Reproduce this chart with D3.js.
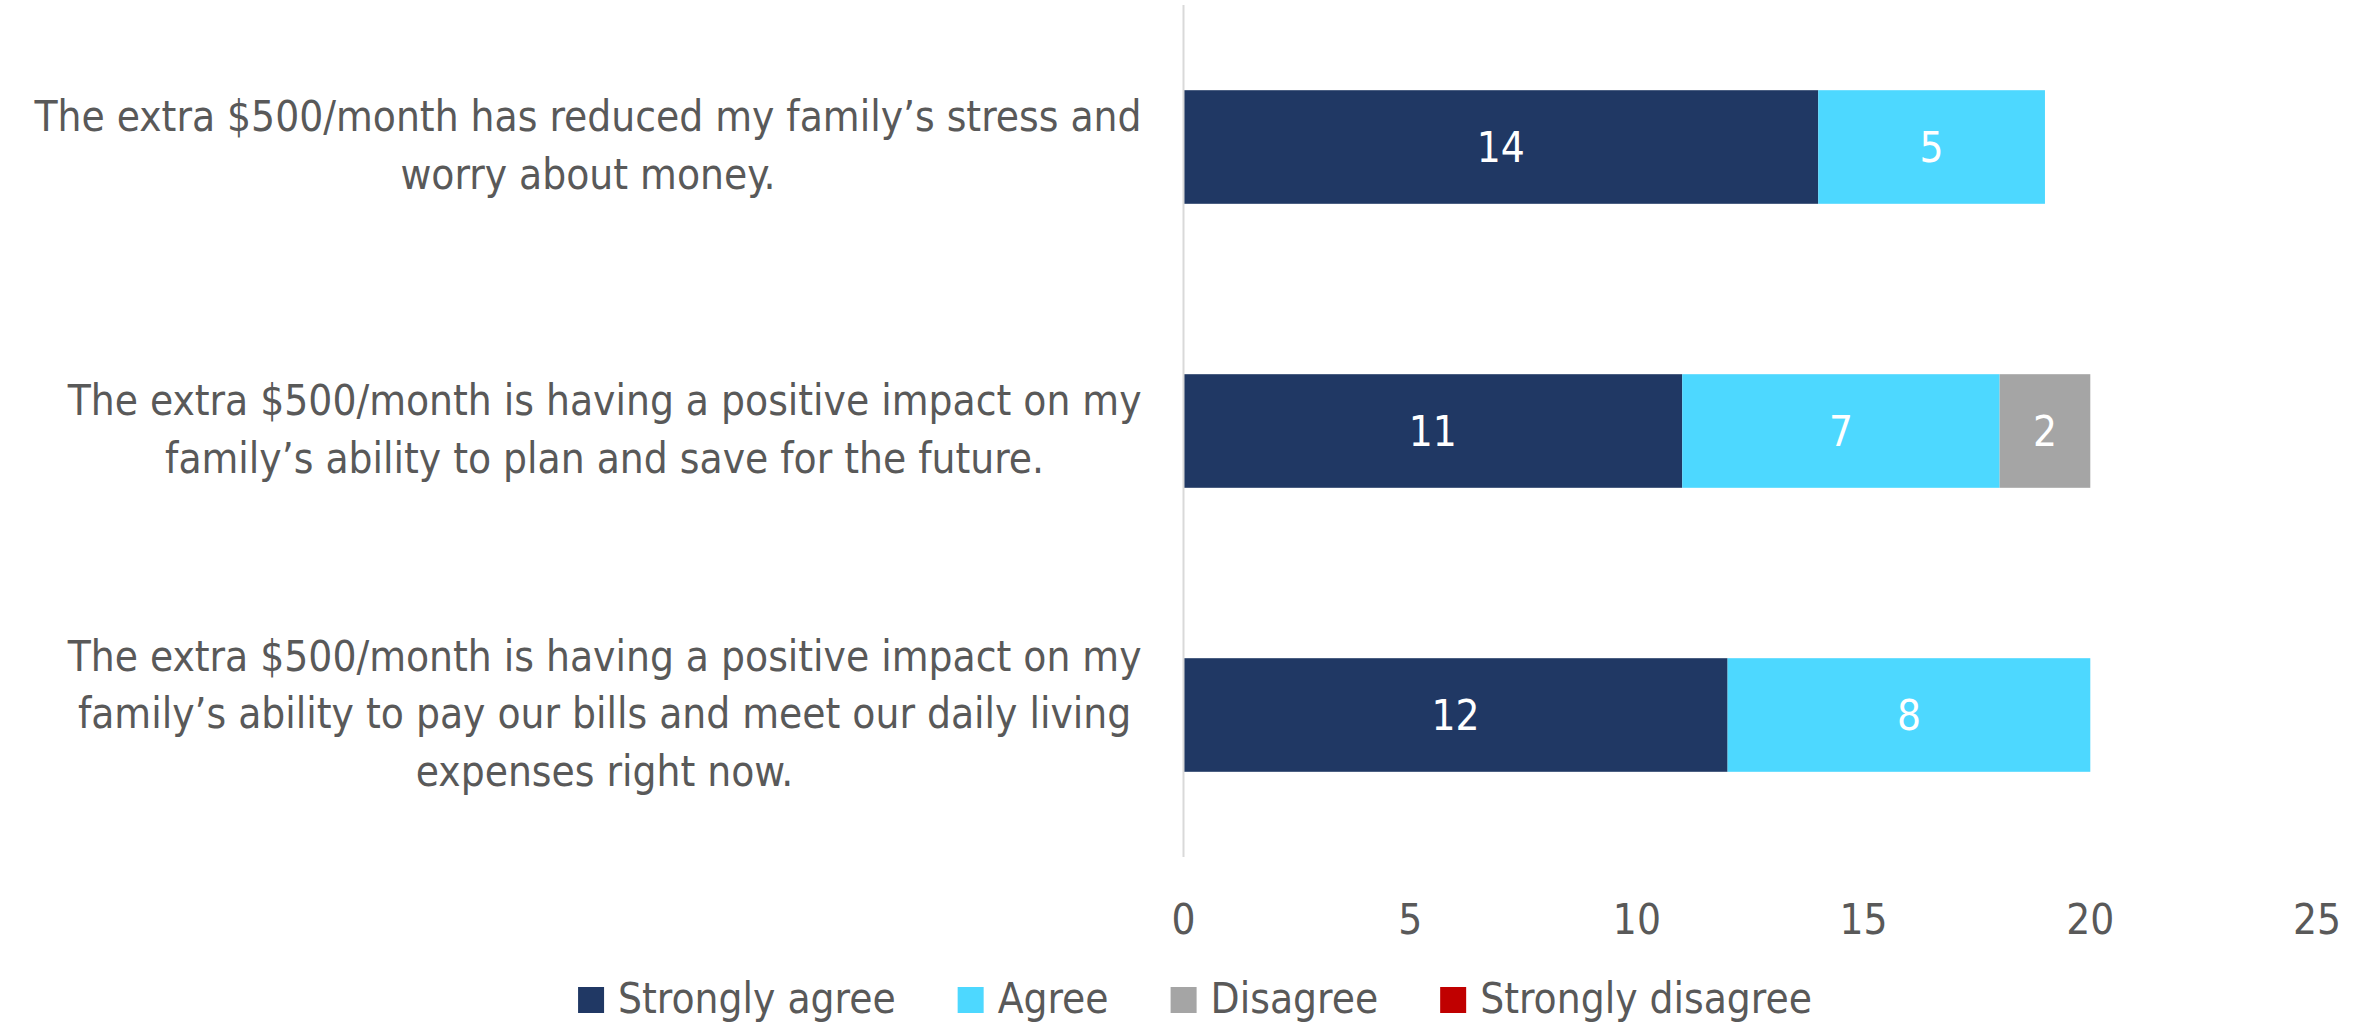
<!DOCTYPE html>
<html>
<head>
<meta charset="utf-8">
<script src="https://cdn.jsdelivr.net/npm/d3@7"></script>
<style>
  body { margin: 0; background: #fff; }
  svg text { font-family: 'DejaVu Sans Condensed', 'DejaVu Sans', sans-serif; font-stretch: condensed; }
</style>
</head>
<body>
<svg id="chart" width="2369" height="1024"></svg>
<script>
const width = 2369, height = 1024;
const svg = d3.select("#chart");

// data
const categories = [
    "The extra $500/month has reduced my family’s stress and worry about money.",
    "The extra $500/month is having a positive impact on my family’s ability to plan and save for the future.",
    "The extra $500/month is having a positive impact on my family’s ability to pay our bills and meet our daily living expenses right now."
];
const categoryLines = [
    ["The extra $500/month has reduced my family’s stress and", "worry about money."],
    ["The extra $500/month is having a positive impact on my", "family’s ability to plan and save for the future."],
    ["The extra $500/month is having a positive impact on my", "family’s ability to pay our bills and meet our daily living", "expenses right now."]
];
const seriesNames = ["Strongly agree", "Agree", "Disagree", "Strongly disagree"];
const seriesColors = ["#203864", "#4DD8FF", "#A5A5A5", "#C00000"];
const stronglyAgree = [14, 11, 12];
const agree = [5, 7, 8];
const disagree = [0, 2, 0];
const stronglyDisagree = [0, 0, 0];
const xTicks = [0, 5, 10, 15, 20, 25];

const fontSize = 42;
const textGray = "#595959";

const rows = categories.map((c, i) => ({
    category: c,
    "Strongly agree": stronglyAgree[i],
    "Agree": agree[i],
    "Disagree": disagree[i],
    "Strongly disagree": stronglyDisagree[i]
}));

const x = d3.scaleLinear().domain([0, 25]).range([1183.5, 2317]);
const y = d3.scaleBand().domain(categories).range([5, 857])
    .paddingInner(0.6).paddingOuter(0.3);
const color = d3.scaleOrdinal().domain(seriesNames).range(seriesColors);

const stacked = d3.stack().keys(seriesNames)(rows);

// bars
const layers = svg.append("g").selectAll("g")
    .data(stacked)
    .enter().append("g")
    .attr("fill", d => color(d.key));

layers.selectAll("rect")
    .data(d => d)
    .enter().append("rect")
    .attr("x", d => x(d[0]))
    .attr("y", d => y(d.data.category))
    .attr("width", d => x(d[1]) - x(d[0]))
    .attr("height", y.bandwidth());

// value labels inside segments
layers.selectAll("text")
    .data(d => d.filter(s => s[1] - s[0] > 0))
    .enter().append("text")
    .attr("x", d => (x(d[0]) + x(d[1])) / 2)
    .attr("y", d => y(d.data.category) + y.bandwidth() / 2 + 15)
    .attr("text-anchor", "middle")
    .attr("fill", "white")
    .style("font-size", fontSize + "px")
    .text(d => d[1] - d[0]);

// vertical axis line
svg.append("line")
    .attr("x1", x(0)).attr("x2", x(0))
    .attr("y1", y.range()[0]).attr("y2", y.range()[1])
    .attr("stroke", "#D9D9D9")
    .attr("stroke-width", 2);

// x tick labels
svg.append("g").selectAll("text")
    .data(xTicks)
    .enter().append("text")
    .attr("x", d => x(d))
    .attr("y", 934)
    .attr("text-anchor", "middle")
    .attr("fill", textGray)
    .style("font-size", fontSize + "px")
    .text(d => d);

// category labels, centred block whose widest line ends near the axis
const lineHeight = 57.5;
categories.forEach((c, i) => {
    const g = svg.append("g");
    const lines = categoryLines[i];
    const cy = y(c) + y.bandwidth() / 2;
    const texts = g.selectAll("text")
        .data(lines)
        .enter().append("text")
        .attr("y", (d, j) => cy + 13 + (j - (lines.length - 1) / 2) * lineHeight)
        .attr("text-anchor", "middle")
        .attr("fill", textGray)
        .style("font-size", fontSize + "px")
        .text(d => d);
    let maxW = 0;
    texts.each(function() { maxW = Math.max(maxW, this.getComputedTextLength()); });
    texts.attr("x", x(0) - 42 - maxW / 2);
});

// legend
const legend = svg.append("g");
let lx = 0;
seriesNames.forEach(name => {
    const item = legend.append("g").attr("transform", `translate(${lx},0)`);
    item.append("rect")
        .attr("x", 0).attr("y", 987)
        .attr("width", 26).attr("height", 26)
        .attr("fill", color(name));
    const t = item.append("text")
        .attr("x", 40).attr("y", 1013)
        .attr("fill", textGray)
        .style("font-size", fontSize + "px")
        .text(name);
    lx += 40 + t.node().getComputedTextLength() + 62;
});
const legendW = lx - 62;
legend.attr("transform", `translate(${1195 - legendW / 2},0)`);
</script>
</body>
</html>
